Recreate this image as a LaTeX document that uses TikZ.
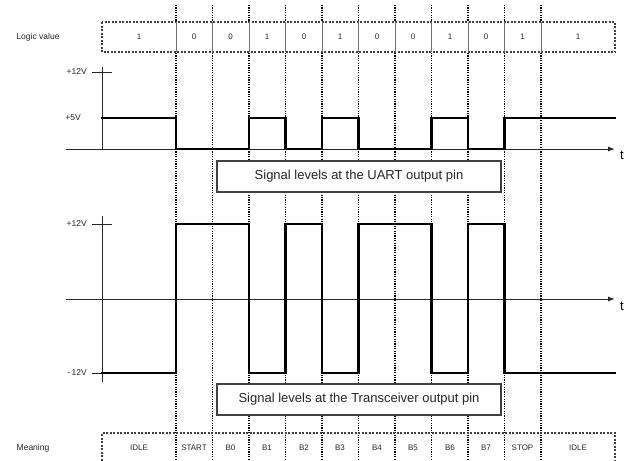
\documentclass[tikz,border=0pt]{standalone}
\usepackage{fontspec}
\setmainfont{Liberation Sans}
\usetikzlibrary{arrows.meta}
\begin{document}
\begin{tikzpicture}[x=1pt,y=-1pt,
  small/.style={font=\fontsize{8}{9}\selectfont, inner sep=0pt, text=black!85},
  lbl/.style={font=\fontsize{8.5}{9}\selectfont, inner sep=0pt, text=black!85},
  sig/.style={line width=2.8pt, line join=miter, line cap=rect},
  axis/.style={line width=1pt, black!85},
  grid/.style={line width=1.1pt, dash pattern=on 1.2pt off 1.2pt, black},
  capbox/.style={draw=black!75, line width=1.5pt, fill=white, minimum width=284pt, minimum height=31pt, font=\fontsize{13}{14}\selectfont, inner sep=0pt, text=black!85},
  tablebox/.style={draw=black!75, line width=1.1pt, dash pattern=on 2pt off 1.5pt}]
\useasboundingbox (0,0) rectangle (630,461);
% vertical dashed grid lines
\foreach \x in {176,212.5,249,285.5,322,358.5,395,431.5,468,504.5,541}{
  \draw[grid] (\x,5) -- (\x,461);
}
% Logic value table
\fill[white] (102,22) rectangle (615,52);
\draw[tablebox] (102,22) rectangle (615,52);
\foreach \x in {176,212.5,249,285.5,322,358.5,395,431.5,468,504.5,541}{
  \draw[black!55, line width=1pt] (\x,22) -- (\x,52);
}
\node[lbl] (lv) at (38,37) {Logic value};
\foreach \c/\v [count=\i] in {139/1,194/0,230.5/0,267/1,304/0,340/1,377/0,413/0,450/1,486/0,522.5/1,578/1}{
  \node[small] (v\i) at (\c,37) {\v};
}
% Upper graph
\coordinate (uo) at (102,149);
\draw[axis] (102,67) -- (uo);
\draw[axis] (92,72) -- (112,72);
\draw[axis, -{Latex[length=7pt,width=5pt]}] (66,149) -- (615,149);
\node[lbl, anchor=east] (u12) at (87,72) {+12V};
\node[lbl, anchor=east] (u5) at (81,118) {+5V};
\node[font=\fontsize{13}{13}\selectfont, inner sep=0pt] (ut) at (622,155) {t};
\draw[sig] (102,118) -- (176,118) -- (176,149) -- (249,149) -- (249,118) -- (285.5,118) -- (285.5,149)
  -- (322,149) -- (322,118) -- (358.5,118) -- (358.5,149) -- (431.5,149) -- (431.5,118) -- (468,118)
  -- (468,149) -- (504.5,149) -- (504.5,118) -- (615,118);
\node[capbox] (ucap) at (359,176.5) {Signal levels at the UART output pin};
% Lower graph
\draw[axis] (102,216) -- (102,382);
\draw[axis] (92,224) -- (112,224);
\draw[axis] (92,373) -- (102,373);
\draw[axis, -{Latex[length=7pt,width=5pt]}] (66,299) -- (615,299);
\node[lbl, anchor=east] (l12) at (87,224) {+12V};
\node[lbl, anchor=east] (lm12) at (87,373) {-\,12V};
\node[font=\fontsize{13}{13}\selectfont, inner sep=0pt] (lt) at (622,306) {t};
\draw[sig] (102,373) -- (176,373) -- (176,224) -- (249,224) -- (249,373) -- (285.5,373) -- (285.5,224)
  -- (322,224) -- (322,373) -- (358.5,373) -- (358.5,224) -- (431.5,224) -- (431.5,373) -- (468,373)
  -- (468,224) -- (504.5,224) -- (504.5,373) -- (615,373);
\node[capbox] (lcap) at (359,399.5) {Signal levels at the Transceiver output pin};
% Meaning table
\draw[tablebox] (102,464) -- (102,433) -- (615,433) -- (615,464);
\node[lbl] (mn) at (33,448) {Meaning};
\foreach \c/\v [count=\i] in {139/IDLE,194/START,230.5/B0,267/B1,304/B2,340/B3,377/B4,413/B5,450/B6,486/B7,522.5/STOP,578/IDLE}{
  \node[small] (m\i) at (\c,448) {\v};
}
\end{tikzpicture}
\end{document}
